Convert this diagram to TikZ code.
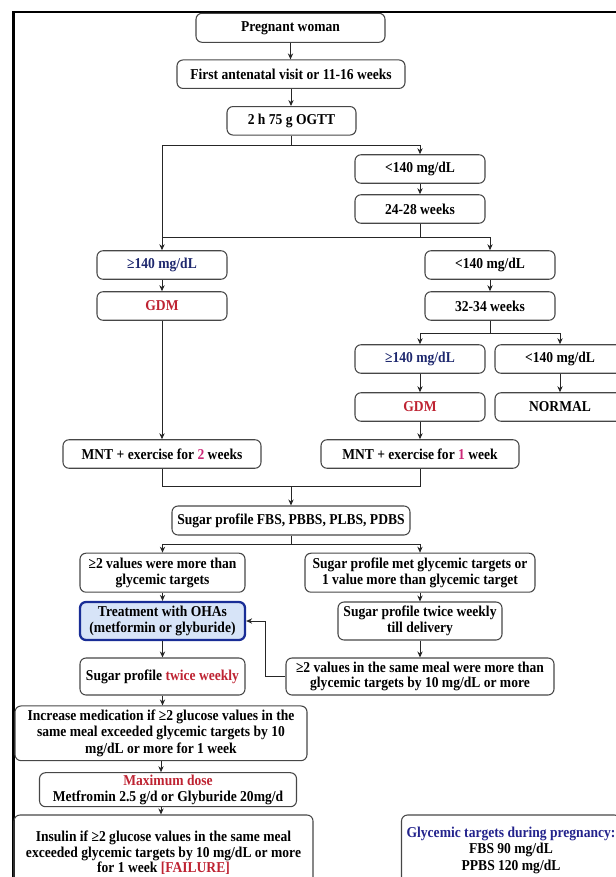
\documentclass[tikz,border=0pt]{standalone}
\usepackage{fontspec}
\setmainfont{Liberation Serif}[FakeStretch=0.9]
\usetikzlibrary{arrows.meta}
\definecolor{navy}{RGB}{30,40,110}
\definecolor{gtitle}{RGB}{35,35,140}
\definecolor{gred}{RGB}{190,35,50}
\definecolor{gpink}{RGB}{205,40,120}
\definecolor{ofill}{RGB}{215,228,248}
\definecolor{oborder}{RGB}{25,45,150}
\definecolor{bgray}{RGB}{70,70,70}
\begin{document}
\begin{tikzpicture}[x=0.75pt,y=-0.75pt,
  box/.style={draw=bgray, line width=0.8pt, rounded corners=4.5pt, align=center, inner sep=1pt,
    font=\fontsize{11.3}{11.8}\selectfont\bfseries},
  sz/.style n args={2}{minimum width=#1*0.75pt, minimum height=#2*0.75pt},
  arr/.style={-{Stealth[length=4.5pt,width=4pt]}, line width=0.75pt, draw=black!85},
  ln/.style={line width=0.75pt, draw=black!85}]
\useasboundingbox (0,0) rectangle (616,877);
\clip (0,0) rectangle (616,877);
\draw[line width=2pt] (13.5,900) -- (13.5,12) -- (640,12);

% top column
\node[box,sz={189}{29}] (pw) at (290.5,27.8) {Pregnant woman};
\node[box,sz={228}{28.5}] (fav) at (291,74.2) {First antenatal visit or 11-16 weeks};
\node[box,sz={129}{28.5}] (ogtt) at (291.5,120.8) {2 h 75 g OGTT};
\node[box,sz={130}{28.5}] (lt1) at (420,169) {<140 mg/dL};
\node[box,sz={130}{28.5}] (w2428) at (420,209) {24-28 weeks};

% second level
\node[box,sz={130}{28.5}] (ge1) at (162,265) {\textcolor{navy}{≥140 mg/dL}};
\node[box,sz={130}{28.5}] (gdm1) at (162,306) {\textcolor{gred}{GDM}};
\node[box,sz={130}{28.5}] (lt2) at (490,265) {<140 mg/dL};
\node[box,sz={130}{28.5}] (w3234) at (490,306) {32-34 weeks};
\node[box,sz={130}{28.5}] (ge2) at (420,359) {\textcolor{navy}{≥140 mg/dL}};
\node[box,sz={130}{28.5}] (lt3) at (560,359) {<140 mg/dL};
\node[box,sz={130}{28.5}] (gdm2) at (420,407) {\textcolor{gred}{GDM}};
\node[box,sz={130}{28.5}] (normal) at (560,407) {NORMAL};

% MNT
\node[box,sz={198}{28.5}] (mnt2) at (162,454) {MNT + exercise for \textcolor{gpink}{2} weeks};
\node[box,sz={198}{28.5}] (mnt1) at (420,454) {MNT + exercise for \textcolor{gpink}{1} week};
\node[box,sz={238}{29}] (sp) at (291,520.5) {Sugar profile FBS, PBBS, PLBS, PDBS};

% lower left / right
\node[box,sz={165}{39}] (ge2v) at (162.5,572.7) {≥2 values were more than\\glycemic targets};
\node[box,sz={230}{39}] (met) at (420,572.7) {Sugar profile met glycemic targets or\\1 value more than glycemic target};
\node[box,sz={165}{38},draw=oborder,fill=ofill,line width=1.7pt] (ohas) at (162.5,621) {Treatment with OHAs\\(metformin or glyburide)};
\node[box,sz={164}{38}] (twice) at (420,621) {Sugar profile twice weekly\\till delivery};
\node[box,sz={165}{37}] (spt) at (162.5,676.5) {Sugar profile \textcolor{gred}{twice weekly}};
\node[box,sz={268}{37}] (same) at (420,676.5) {≥2 values in the same meal were more than\\glycemic targets by 10 mg/dL or more};
\node[box,sz={292}{54.7},font=\fontsize{11.3}{12.6}\selectfont\bfseries] (inc) at (161,733.3) {Increase medication if ≥2 glucose values in the\\same meal exceeded glycemic targets by 10\\mg/dL or more for 1 week};
\node[box,sz={257}{34}] (max) at (168,789.7) {\textcolor{gred}{Maximum dose}\\Metfromin 2.5 g/d or Glyburide 20mg/d};
\node[box,sz={299}{75.4},font=\fontsize{11.3}{11.5}\selectfont\bfseries] (ins) at (163.5,852.7) {Insulin if ≥2 glucose values in the same meal\\exceeded glycemic targets by 10 mg/dL or more\\for 1 week \textcolor{gred}{[FAILURE]}};
\node[box,sz={219}{70},font=\fontsize{11.3}{12.4}\selectfont\bfseries] (gly) at (511,850) {\textcolor{gtitle}{Glycemic targets during pregnancy:}\\FBS 90 mg/dL\\PPBS 120 mg/dL};

% junction coordinates
\coordinate (j1) at (291.5,145.5);
\coordinate (j2) at (420,237.5);
\coordinate (j3) at (490,333);
\coordinate (j4) at (291,486.5);
\coordinate (j5) at (291,544);

% connectors
\draw[arr] (pw.south) -- (pw.south |- fav.north);
\draw[arr] (fav.south) -- (fav.south |- ogtt.north);
\draw[ln] (ogtt.south) -- (j1);
\draw[arr] (j1) -| (lt1.north);
\draw[arr] (j1) -| (ge1.north);
\draw[arr] (lt1) -- (w2428);
\draw[ln] (w2428.south) -- (j2);
\draw[ln] (j2) -- (j2 -| ge1.north);
\draw[arr] (j2) -| (lt2.north);
\draw[arr] (ge1) -- (gdm1);
\draw[arr] (lt2) -- (w3234);
\draw[ln] (w3234.south) -- (j3);
\draw[arr] (j3) -| (ge2.north);
\draw[arr] (j3) -| (lt3.north);
\draw[arr] (ge2) -- (gdm2);
\draw[arr] (lt3) -- (normal);
\draw[arr] (gdm1) -- (mnt2);
\draw[arr] (gdm2) -- (mnt1);
\draw[ln] (mnt2.south) |- (j4) -| (mnt1.south);
\draw[arr] (j4) -- (sp.north);
\draw[ln] (sp.south) -- (j5);
\draw[arr] (j5) -| (ge2v.north);
\draw[arr] (j5) -| (met.north);
\draw[arr] (ge2v) -- (ohas);
\draw[arr] (met) -- (twice);
\draw[arr] (twice) -- (same);
\draw[arr] (ohas) -- (spt);
\draw[arr] (same.west) -- ++(-20,0) |- (ohas.east);
\draw[arr] (spt.south) -- (spt.south |- inc.north);
\draw[arr] (inc.south) -- (inc.south |- max.north);
\draw[arr] (inc.south |- max.south) -- (inc.south |- ins.north);
\end{tikzpicture}
\end{document}
